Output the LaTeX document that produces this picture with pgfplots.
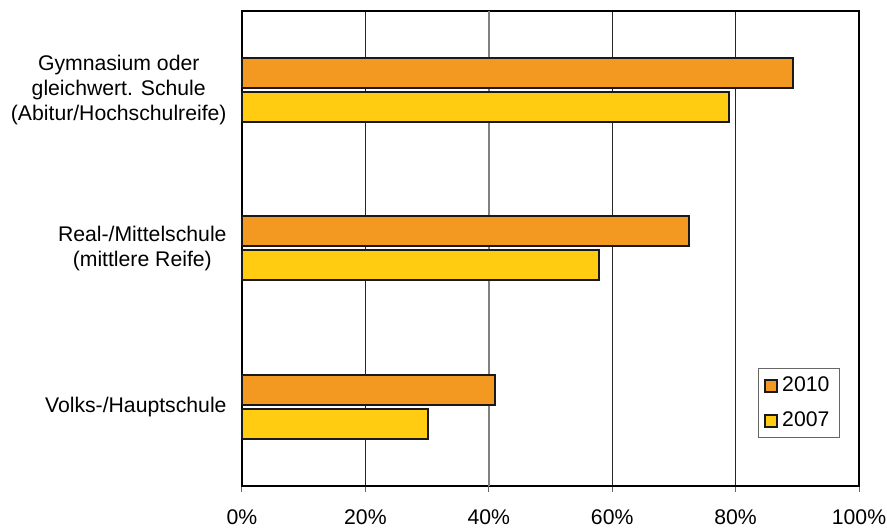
\documentclass[border=0pt]{standalone}
\usepackage{fontspec}
\setmainfont{Liberation Sans}
\usepackage{pgfplots}
\pgfplotsset{compat=1.18}
\definecolor{barorange}{RGB}{243,153,33}
\definecolor{baryellow}{RGB}{255,204,17}
\newcommand{\lblfont}{\fontsize{10.6}{12.5}\selectfont}
\begin{document}
\lblfont
\begin{tikzpicture}
\begin{axis}[
  name=ax,
  scale only axis,
  width=308.5pt, height=237.5pt,
  xmin=0, xmax=100,
  ymin=-0.5, ymax=2.5,
  xtick={0,20,...,100},
  xticklabel={\pgfmathprintnumber{\tick}\%},
  /pgf/number format/assume math mode=true,
  xmajorgrids,
  grid style={black!85, line width=0.4pt},
  xtick pos=bottom, ytick pos=left,
  tick align=outside,
  major tick length=3pt,
  tick style={black!60, line width=0.5pt},
  ytick={0,1,2},
  yticklabels={Volks-/Hauptschule,
    {Real-/Mittelschule\\(mittlere Reife)},
    {Gymnasium oder\\gleichwert. Schule\\(Abitur/Hochschulreife)}},
  yticklabel style={align=center, font=\lblfont, xshift=-1pt},
  xticklabel style={font=\lblfont, yshift=-5pt},
  ytick style={draw=none},
  extra y ticks={-0.5,0.5,1.5,2.5},
  extra y tick labels={},
  extra y tick style={tick style={draw=black!60}, grid=none},
  extra x ticks={40},
  extra x tick labels={},
  extra x tick style={grid style={black!50, line width=0.8pt}},
  axis line style={black, line width=1pt},
  xbar, bar width=15pt,
  legend style={at={(0.969,0.101)}, anchor=south east, draw=black!60,
    line width=0.5pt, font=\lblfont,
    row sep=4.5pt, inner xsep=3pt, inner ysep=2pt},
  legend cell align=left,
  legend image code/.code={\draw[#1, line width=1pt] (0pt,-3pt) rectangle (6pt,3pt);},
]
\addplot[fill=barorange, draw=black!90, line width=1pt, bar shift=8.5pt]
  coordinates {(41.0,0) (72.5,1) (89.3,2)};
\addlegendentry{2010}
\addplot[fill=baryellow, draw=black!90, line width=1pt, bar shift=-8.5pt]
  coordinates {(30.2,0) (57.9,1) (79.0,2)};
\addlegendentry{2007}
\end{axis}
\pgfresetboundingbox
\path ([shift={(-121pt,-21pt)}]ax.south west) rectangle ([shift={(14pt,5.5pt)}]ax.north east);
\end{tikzpicture}
\end{document}
